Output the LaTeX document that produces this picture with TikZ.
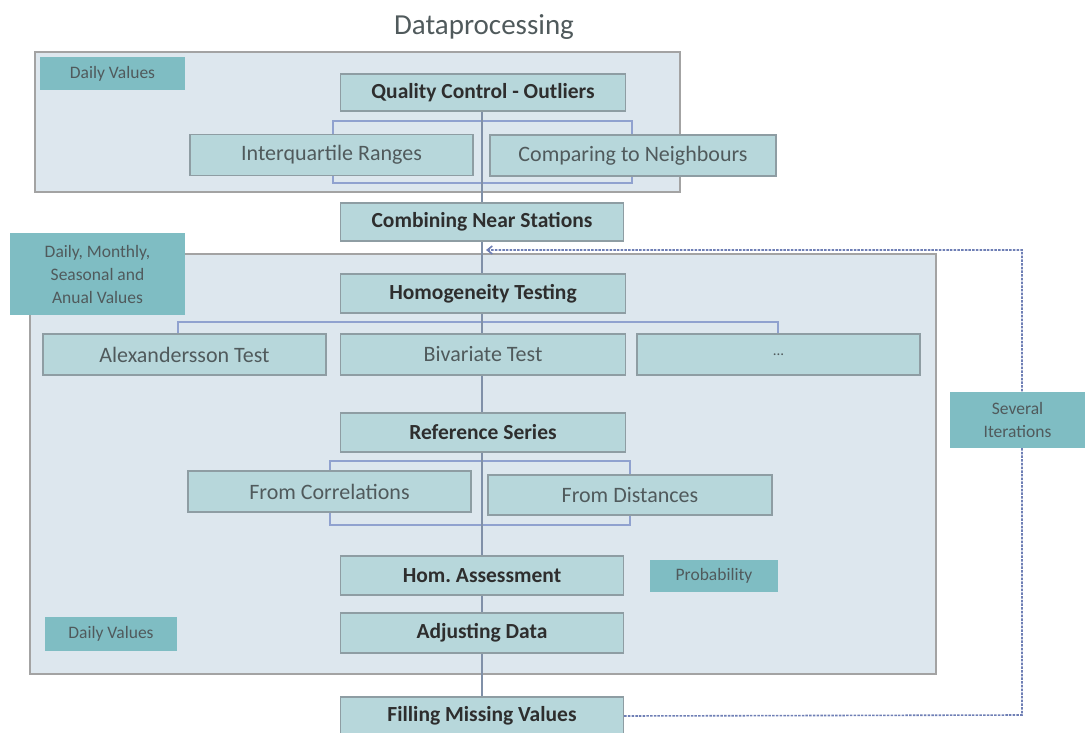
\documentclass[tikz,border=0pt]{standalone}
\usepackage{fontspec}
\setmainfont{Carlito}
\usetikzlibrary{arrows.meta}
\frenchspacing
\pgfdeclarelayer{panels}
\pgfdeclarelayer{lines}
\pgfsetlayers{panels,lines,main}
\definecolor{panelfill}{HTML}{DDE7EE}
\definecolor{paneledge}{HTML}{A3A3A3}
\definecolor{boxfill}{HTML}{B7D7DB}
\definecolor{boxedge}{HTML}{8E9DA3}
\definecolor{labfill}{HTML}{7FBDC3}
\definecolor{brk}{HTML}{90A2CF}
\definecolor{cline}{HTML}{8090A8}
\definecolor{fbc}{HTML}{6F7FB5}
\definecolor{txt}{HTML}{2E2E2E}
\definecolor{ltxt}{HTML}{505A5C}
\begin{document}
\begin{tikzpicture}[x=1pt,y=-1pt,
  panel/.style={draw=paneledge,fill=panelfill,line width=1.5pt},
  bbox/.style={draw=boxedge,fill=boxfill,line width=1.3pt,inner sep=0pt,text=txt,font=\fontsize{21.5}{24}\selectfont\bfseries},
  rbox/.style={draw=boxedge,fill=boxfill,line width=1.3pt,inner sep=0pt,text=ltxt,font=\fontsize{22}{24}\selectfont},
  lab/.style={fill=labfill,inner sep=0pt,text=ltxt,font=\fontsize{17.5}{23}\selectfont,align=center},
  bracket/.style={draw=brk,line width=1.2pt},
  conn/.style={draw=cline,line width=1.1pt},
  fb/.style={draw=fbc,line width=1.6pt,dash pattern=on 2.5pt off 1.2pt}]
\useasboundingbox (0,0) rectangle (1085,733);
% title
\node[font=\fontsize{29}{32}\selectfont,text=ltxt] (title) at (484,27) {Dataprocessing};
% panels
\begin{pgfonlayer}{panels}
\draw[panel] (35,52) rectangle (680,192);
\draw[panel] (30,254) rectangle (936,674);
\end{pgfonlayer}
% feedback loop coordinates
\coordinate (fr) at (1022,715);
\coordinate (tr) at (1022,250);
\coordinate (tl) at (486,250);
% main boxes
\node[bbox,minimum width=285pt,minimum height=37pt] (qc) at (483,92.5) {Quality Control - Outliers};
\node[rbox,minimum width=283pt,minimum height=41pt] (iqr) at (331.5,155) {Interquartile Ranges};
\node[rbox,minimum width=286pt,minimum height=41pt] (cmp) at (633,155.5) {Comparing to Neighbours};
\node[bbox,minimum width=283pt,minimum height=38pt] (cns) at (482,222) {Combining Near Stations};
\node[bbox,minimum width=285pt,minimum height=39pt] (ht) at (483,293.5) {Homogeneity Testing};
\node[rbox,minimum width=283pt,minimum height=41pt] (alx) at (184.5,354.5) {Alexandersson Test};
\node[rbox,minimum width=285pt,minimum height=41pt] (biv) at (483,354.5) {Bivariate Test};
\node[rbox,minimum width=283pt,minimum height=41pt] (dots) at (778.5,354.5) {\fontsize{15}{18}\selectfont ...};
\node[bbox,minimum width=285pt,minimum height=39pt] (ref) at (483,432.5) {Reference Series};
\node[rbox,minimum width=283pt,minimum height=41pt] (cor) at (329.5,491.5) {From Correlations};
\node[rbox,minimum width=284pt,minimum height=40pt] (dist) at (630,495) {From Distances};
\node[bbox,minimum width=283pt,minimum height=39pt] (hom) at (482,575.5) {Hom.\ Assessment};
\node[bbox,minimum width=283pt,minimum height=40pt] (adj) at (482,633) {Adjusting Data};
\node[bbox,minimum width=283pt,minimum height=38pt] (fill) at (482,716) {Filling Missing Values};
% connectors and brackets, behind the boxes
\begin{pgfonlayer}{lines}
\draw[bracket] (333,121) rectangle (632,183);
\draw[bracket] (alx.north -| 178,0) -- (178,322) -- (778,322) -- (dots.north -| 778,0);
\draw[bracket] (330,461) rectangle (630,525);
\draw[conn] (qc.south -| cns.north) -- (cns.north);
\draw[conn] (cns.south) -- (cns.south |- ht.north);
\draw[conn] (ht.south -| cns.south) -- (cns.south |- ref.north);
\draw[conn] (ref.south -| hom.north) -- (hom.north);
\draw[conn] (hom.south) -- (adj.north);
\draw[conn] (adj.south) -- (fill.north);
\end{pgfonlayer}
% labels
\node[lab,minimum width=145pt,minimum height=33pt] (dv1) at (112.5,73.5) {Daily Values};
\node[lab,minimum width=175pt,minimum height=82pt] (dmv) at (97.5,274) {Daily, Monthly,\\Seasonal and\\Anual Values};
\node[lab,minimum width=128pt,minimum height=32pt] (prob) at (714,576) {Probability};
\node[lab,minimum width=132pt,minimum height=34pt] (dv2) at (111,634) {Daily Values};
% feedback dashed line
\draw[fb,-{Straight Barb[length=5pt,width=8pt]}] (fill.east) -- (fr) -- (tr) -- (tl);
\node[lab,minimum width=135pt,minimum height=56pt] (sev) at (1017.5,420) {Several\\Iterations};
\end{tikzpicture}
\end{document}
